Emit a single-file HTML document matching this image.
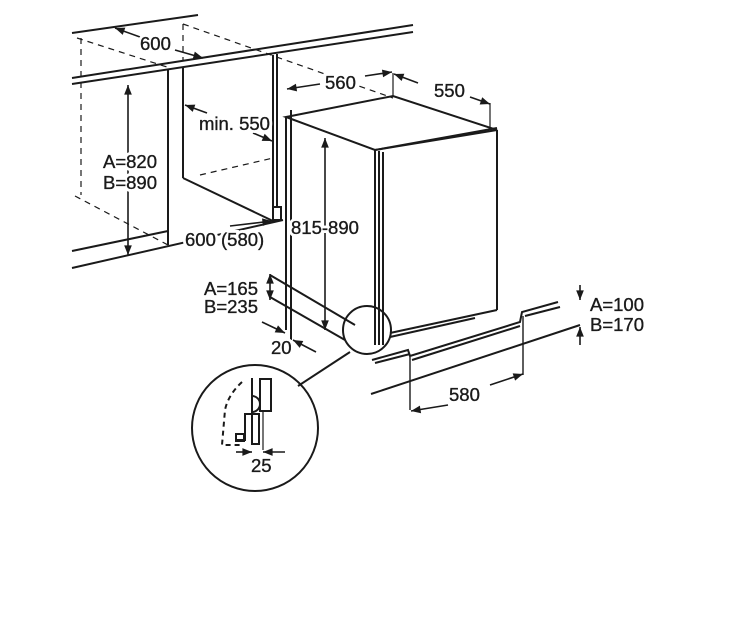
<!DOCTYPE html>
<html><head><style>
html,body{margin:0;padding:0;background:#fff;}
svg{display:block;}
text{font-family:"Liberation Sans",Arial,sans-serif;font-size:18.5px;}
.bg text{fill:#fff;stroke:#fff;stroke-width:6;}
.fg text{fill:#1a1a1a;stroke:#1a1a1a;stroke-width:0.35;}
</style></head><body>
<svg width="730" height="643" viewBox="0 0 730 643" xmlns="http://www.w3.org/2000/svg">
<defs>
<marker id="a" viewBox="0 0 10 10" refX="10" refY="5" markerWidth="8" markerHeight="6" orient="auto-start-reverse"><path d="M0,1 L10,5 L0,9 z" fill="#1a1a1a"/></marker>
</defs>
<g stroke="#1a1a1a" stroke-width="2" fill="none">
<line x1="72" y1="33" x2="198" y2="15"/>
<line x1="72" y1="78" x2="413" y2="25"/>
<line x1="72" y1="84" x2="413" y2="32"/>
<line x1="72" y1="251" x2="168" y2="231"/>
<line x1="72" y1="268" x2="283" y2="220"/>
<line x1="168" y1="70" x2="168" y2="245"/>
<line x1="183" y1="68" x2="183" y2="178"/>
<line x1="183" y1="178" x2="273" y2="221"/>
<line x1="273" y1="55" x2="273" y2="222"/>
<line x1="277" y1="54" x2="277" y2="207"/>
<rect x="273" y="207" width="8" height="13"/>
<polygon points="286,117 393,96 497,130 375,150"/>
<line x1="375" y1="150" x2="497" y2="128"/>
<line x1="286" y1="117" x2="286" y2="330"/>
<line x1="375" y1="150" x2="375" y2="345"/>
<line x1="379" y1="151" x2="379" y2="345"/>
<line x1="383" y1="152" x2="383" y2="345"/>
<line x1="497" y1="130" x2="497" y2="310"/>
<line x1="390" y1="333" x2="497" y2="310"/>
<line x1="390" y1="337" x2="475" y2="318"/>
<line x1="291" y1="110" x2="291" y2="340"/>
<line x1="270" y1="275" x2="355" y2="325"/>
<line x1="270" y1="297" x2="345" y2="340"/>
<polyline points="372,360 408,350 410,356 520,322 522,312 558,302"/>
<line x1="375" y1="363" x2="410" y2="354"/>
<line x1="412" y1="360" x2="520" y2="326"/>
<line x1="525" y1="316" x2="560" y2="307"/>
<line x1="371" y1="394" x2="580" y2="325"/>
<line x1="410" y1="357" x2="410" y2="410" stroke-width="1.4"/>
<line x1="523" y1="316" x2="523" y2="375" stroke-width="1.4"/>
<line x1="393" y1="73" x2="393" y2="96" stroke-width="1.2"/>
<line x1="490" y1="103" x2="490" y2="130" stroke-width="1.2"/>
<circle cx="367" cy="330" r="24"/>
<line x1="350" y1="352" x2="298" y2="386"/>
<circle cx="255" cy="428" r="63"/>
<rect x="260" y="379" width="11" height="32"/>
<rect x="252" y="414" width="7" height="30"/>
<line x1="252" y1="378" x2="252" y2="414"/>
<path d="M252,396 a8,8 0 0 1 0,16"/>
<polyline points="252,414 245,414 245,440 236,440"/>
<rect x="236" y="434" width="8" height="7"/>
<line x1="263" y1="412" x2="263" y2="450" stroke-width="1.2"/>
<path d="M242,382 Q228,395 225,410 L222,445 L240,445" stroke-dasharray="5,4"/>
</g>
<g stroke="#1a1a1a" stroke-width="1.2" fill="none" stroke-dasharray="6,5">
<line x1="77" y1="38" x2="170" y2="68"/>
<line x1="183" y1="24" x2="393" y2="98"/>
<line x1="81" y1="38" x2="81" y2="195"/>
<line x1="183" y1="24" x2="183" y2="60"/>
<line x1="200" y1="175" x2="273" y2="158"/>
<line x1="75" y1="196" x2="168" y2="245"/>
</g>
<g stroke="#1a1a1a" stroke-width="1.6" fill="none" marker-end="url(#a)" marker-start="url(#a)">
<line x1="128" y1="85" x2="128" y2="255"/>
<line x1="325" y1="138" x2="325" y2="330"/>
<line x1="270" y1="274" x2="270" y2="300"/>
</g>
<g stroke="#1a1a1a" stroke-width="1.6" fill="none" marker-end="url(#a)">
<line x1="140" y1="37" x2="115" y2="28"/>
<line x1="175" y1="50" x2="203" y2="58"/>
<line x1="207" y1="113" x2="185" y2="105"/>
<line x1="253" y1="133" x2="272" y2="141"/>
<line x1="230" y1="226" x2="272" y2="221"/>
<line x1="320" y1="84" x2="287" y2="89"/>
<line x1="365" y1="76" x2="392" y2="72"/>
<line x1="418" y1="83" x2="394" y2="74"/>
<line x1="470" y1="97" x2="490" y2="104"/>
<line x1="262" y1="322" x2="285" y2="333"/>
<line x1="316" y1="352" x2="293" y2="340"/>
<line x1="448" y1="405" x2="411" y2="411"/>
<line x1="490" y1="385" x2="523" y2="374"/>
<line x1="580" y1="285" x2="580" y2="300"/>
<line x1="580" y1="345" x2="580" y2="327"/>
<line x1="236" y1="452" x2="252" y2="452"/>
<line x1="285" y1="452" x2="263" y2="452"/>
</g>
<g class="bg">
<text x="140" y="50">600</text>
<text x="199" y="130">min. 550</text>
<text x="103" y="168">A=820</text>
<text x="103" y="189">B=890</text>
<text x="185" y="246">600 (580)</text>
<text x="291" y="234">815-890</text>
<text x="325" y="89">560</text>
<text x="434" y="97">550</text>
<text x="204" y="295">A=165</text>
<text x="204" y="313">B=235</text>
<text x="271" y="354">20</text>
<text x="590" y="311">A=100</text>
<text x="590" y="331">B=170</text>
<text x="449" y="401">580</text>
<text x="251" y="472">25</text>
</g>
<g class="fg">
<text x="140" y="50">600</text>
<text x="199" y="130">min. 550</text>
<text x="103" y="168">A=820</text>
<text x="103" y="189">B=890</text>
<text x="185" y="246">600 (580)</text>
<text x="291" y="234">815-890</text>
<text x="325" y="89">560</text>
<text x="434" y="97">550</text>
<text x="204" y="295">A=165</text>
<text x="204" y="313">B=235</text>
<text x="271" y="354">20</text>
<text x="590" y="311">A=100</text>
<text x="590" y="331">B=170</text>
<text x="449" y="401">580</text>
<text x="251" y="472">25</text>
</g>
</svg>
</body></html>
